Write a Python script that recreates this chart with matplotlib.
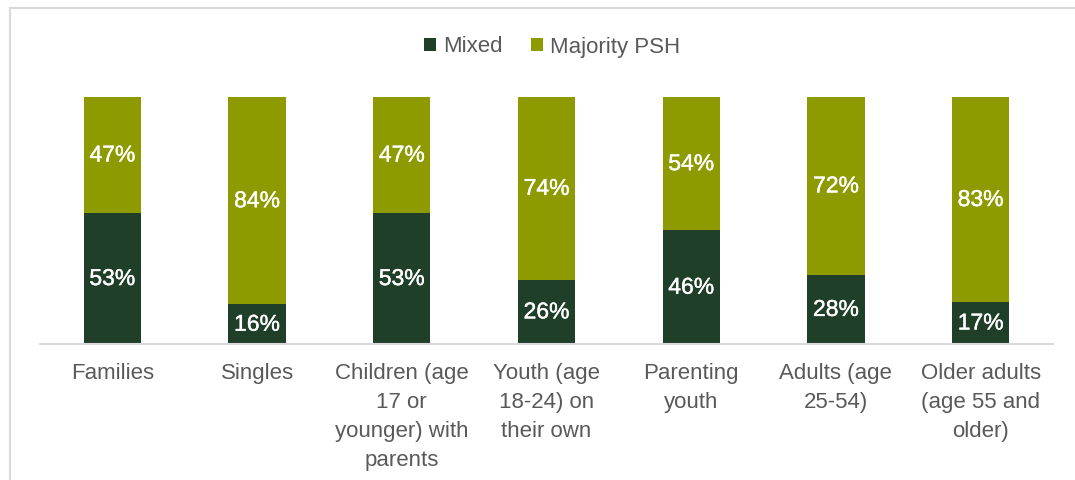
import matplotlib.pyplot as plt
import matplotlib.patheffects as pe
import numpy as np

categories = ["Families", "Singles", "Children (age\n17 or\nyounger) with\nparents",
              "Youth (age\n18-24) on\ntheir own", "Parenting\nyouth", "Adults (age\n25-54)",
              "Older adults\n(age 55 and\nolder)"]
mixed = [53, 16, 53, 26, 46, 28, 17]
majority_psh = [47, 84, 47, 74, 54, 72, 83]

dark = "#203F29"
olive = "#8D9A00"
grey = "#595959"

plt.rcParams['font.family'] = ['Liberation Sans', 'DejaVu Sans']

fig = plt.figure(figsize=(10.75, 4.8), dpi=100)

# light frame of the chart area
frame = fig.add_axes([10 / 1075, -0.05, 1.2, 1 - 8 / 480 + 0.05])
frame.set_xticks([])
frame.set_yticks([])
frame.patch.set_alpha(0)
for s in frame.spines.values():
    s.set_color("#D9D9D9")
    s.set_linewidth(1.5)

ax = fig.add_axes([40 / 1075, 136 / 480, 1013 / 1075, 247 / 480])
x = np.arange(len(categories))
w = 0.395
b1 = ax.bar(x, mixed, w, color=dark, label="Mixed")
b2 = ax.bar(x, majority_psh, w, bottom=mixed, color=olive, label="Majority PSH")

thick = [pe.withStroke(linewidth=0.3, foreground="white")]
for i in range(len(x)):
    ax.text(x[i], mixed[i] / 2, f"{mixed[i]}%", ha="center", va="center",
            color="white", fontsize=16.5, path_effects=thick)
    ax.text(x[i], mixed[i] + majority_psh[i] / 2, f"{majority_psh[i]}%", ha="center",
            va="center", color="white", fontsize=16.5, path_effects=thick)

ax.set_xlim(-0.5, 6.5)
ax.set_ylim(0, 100)
ax.set_yticks([])
ax.set_xticks(x)
ax.set_xticklabels(categories, fontsize=16, color=grey, linespacing=1.5)
ax.tick_params(axis="x", length=0, pad=14)
for s in ["top", "right", "left"]:
    ax.spines[s].set_visible(False)
ax.spines["bottom"].set_color("#D9D9D9")
ax.spines["bottom"].set_linewidth(1.5)

fig.legend(handles=[b1, b2], loc="center", bbox_to_anchor=(552 / 1075, 1 - 47 / 480),
           ncol=2, frameon=False, fontsize=16, labelcolor=grey,
           handlelength=0.55, handleheight=0.55, handletextpad=0.3, columnspacing=1.3)

fig.savefig("out.png", dpi=100)
